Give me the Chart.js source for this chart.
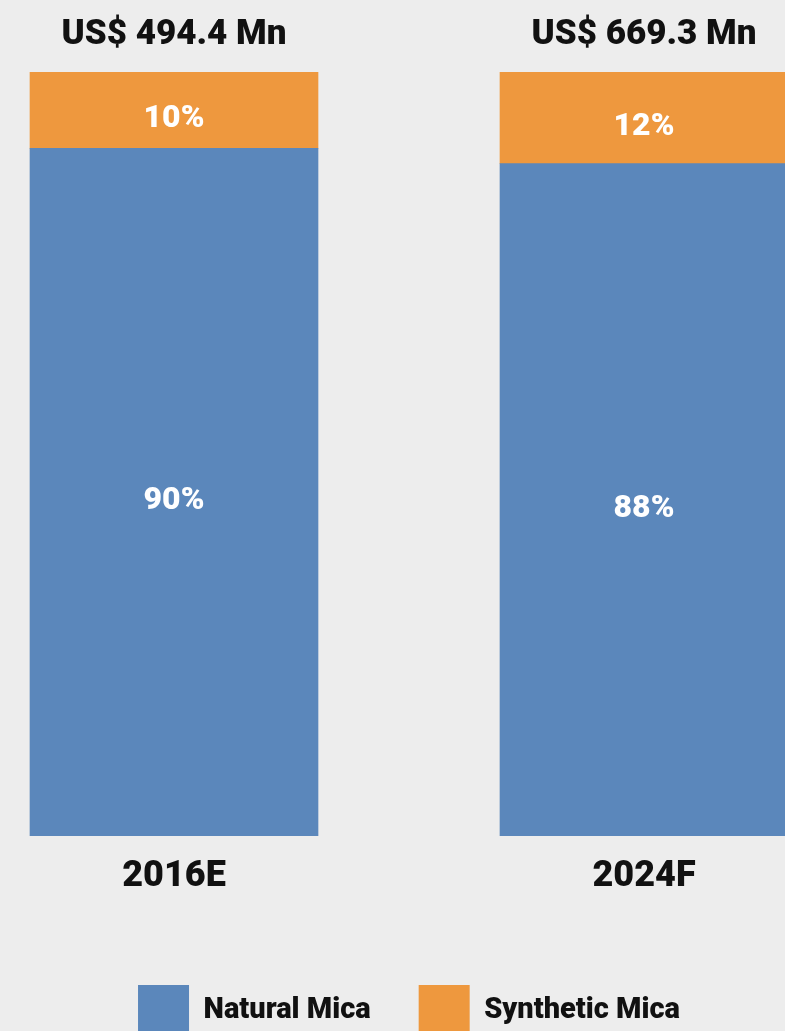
<!DOCTYPE html>
<html>
<head>
<meta charset="utf-8">
<script src="https://cdn.jsdelivr.net/npm/chart.js@4.4.1/dist/chart.umd.min.js"></script>
<style>
  html, body { margin: 0; padding: 0; background: #ededed; overflow: hidden; }
  body { width: 785px; height: 1031px; position: relative; }
  #mica { position: absolute; left: -61px; top: 0; }
</style>
</head>
<body>
<canvas id="mica" width="940" height="1046"></canvas>
<script>
var years = ['2016E', '2024F'];
var naturalShare = [90, 88];
var syntheticShare = [10, 12];
var marketSize = ['US$ 494.4 Mn', 'US$ 669.3 Mn'];

var blue = '#5b87bb';
var orange = '#ee983e';

// percent inside each segment, market size above each bar
var barText = {
    id: 'barText',
    afterDatasetsDraw: function(chart) {
        var ctx = chart.ctx;
        ctx.save();
        ctx.textAlign = 'center';
        ctx.textBaseline = 'middle';
        ctx.fillStyle = '#ffffff';
        ctx.font = '900 32px Roboto';
        chart.data.datasets.forEach(function(ds, i) {
            chart.getDatasetMeta(i).data.forEach(function(bar, j) {
                var yc = (bar.y + bar.base) / 2 + 9;
                ctx.fillText(ds.data[j] + '%', bar.x, yc);
            });
        });
        var last = chart.getDatasetMeta(chart.data.datasets.length - 1).data;
        ctx.fillStyle = '#111111';
        ctx.font = '900 35px Roboto';
        last.forEach(function(bar, j) {
            ctx.fillText(marketSize[j], bar.x, bar.y - 37);
        });
        ctx.restore();
    }
};

var chart = new Chart(document.getElementById('mica'), {
    type: 'bar',
    data: {
        labels: years,
        datasets: [{
            label: 'Natural Mica',
            data: naturalShare,
            backgroundColor: blue,
            borderWidth: 0,
            barThickness: 288
        }, {
            label: 'Synthetic Mica',
            data: syntheticShare,
            backgroundColor: orange,
            borderWidth: 0,
            barThickness: 288
        }]
    },
    options: {
        responsive: false,
        animation: false,
        devicePixelRatio: 1,
        layout: { padding: { top: 72, left: 0, right: 0, bottom: 0 } },
        scales: {
            x: {
                stacked: true,
                grid: { display: false, drawTicks: false },
                border: { display: false },
                ticks: {
                    color: '#111111',
                    padding: 19,
                    font: { family: 'Roboto', size: 36, weight: '900' }
                },
                afterFit: function(scale) { scale.height = 101; }
            },
            y: {
                stacked: true,
                display: false,
                min: 0,
                max: 100
            }
        },
        plugins: {
            legend: {
                position: 'bottom',
                labels: {
                    boxWidth: 51,
                    boxHeight: 51,
                    padding: 48,
                    color: '#111111',
                    font: { family: 'Roboto', size: 29, weight: '900' }
                }
            },
            tooltip: { enabled: false }
        }
    },
    plugins: [barText]
});
</script>
</body>
</html>
